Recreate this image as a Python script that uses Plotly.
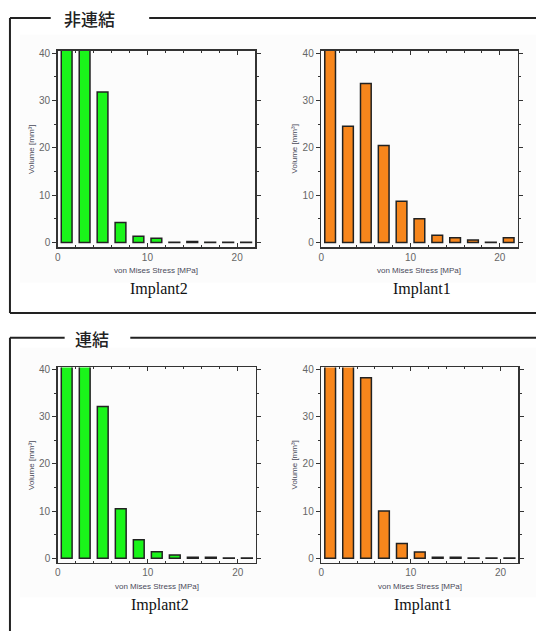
import plotly.graph_objects as go

W, H = 536, 632

# Data (bins of 2 MPa, centered at odd values)
stress_bins = [1, 3, 5, 7, 9, 11, 13, 15, 17, 19, 21]
x_ticks = [0, 10, 20]
y_ticks = [0, 10, 20, 30, 40]

sep_implant2 = [45, 45, 31.8, 4.2, 1.3, 0.9, 0.05, 0.2, 0.05, 0.05, 0.05]
sep_implant1 = [45, 24.6, 33.6, 20.5, 8.7, 5.0, 1.5, 1.0, 0.5, 0.05, 1.0]
con_implant2 = [45, 45, 32.2, 10.5, 3.9, 1.35, 0.7, 0.2, 0.2, 0.05, 0.05]
con_implant1 = [45, 45, 38.3, 10.0, 3.1, 1.3, 0.2, 0.2, 0.05, 0.05, 0.05]

group_titles = ["非連結", "連結"]
panel_names = ["Implant2", "Implant1"]
x_title = "von Mises Stress [MPa]"
y_title = "Volume [mm³]"

GREEN = "#1AF51A"
ORANGE = "#F7861C"

def px(x):
    return x / W

def py(y):
    return 1 - y / H

# panel pixel boxes: (x0, x1, ytop, ybottom)
panels = [
    (sep_implant2, GREEN, (55, 253.5, 48.3, 245.7), panel_names[0]),
    (sep_implant1, ORANGE, (320, 517.5, 48.3, 245.7), panel_names[1]),
    (con_implant2, GREEN, (55, 254.3, 366.7, 563.5), panel_names[0]),
    (con_implant1, ORANGE, (320, 518.3, 366.7, 563.5), panel_names[1]),
]

fig = go.Figure()
annotations = []
shapes = []

def ann(text, x, y, font, angle=0):
    annotations.append(dict(text=text, x=px(x), y=py(y), xref="paper", yref="paper",
                            xanchor="center", yanchor="middle", showarrow=False,
                            textangle=angle, font=font))

# faint background regions
for (x0, x1, y0, y1) in [(17, 536, 32, 281.5), (17, 536, 347, 598)]:
    shapes.append(dict(type="rect", xref="paper", yref="paper",
                       x0=px(x0), x1=px(x1), y0=py(y1), y1=py(y0),
                       fillcolor="#fcfcfc", line=dict(width=0), layer="below"))

for i, (vals, color, box, name) in enumerate(panels):
    k = "" if i == 0 else str(i + 1)
    xa, ya = "x" + k, "y" + k
    fig.add_trace(go.Bar(x=stress_bins, y=vals, width=1.2, xaxis=xa, yaxis=ya,
                         marker=dict(color=color, line=dict(color="#222222", width=1.5)),
                         showlegend=False, hoverinfo="skip"))
    x0, x1, yt, yb = box
    axis_common = dict(showline=True, linecolor="#333333", linewidth=1.5, mirror="allticks",
                       showgrid=False, zeroline=False, ticklen=4, tickcolor="#333333",
                       tickfont=dict(family="Liberation Sans, Arial", size=10, color="#666666"))
    fig.layout["xaxis" + k] = dict(axis_common, domain=[px(x0), px(x1)], range=[0, 22],
                                   anchor=ya, tickvals=x_ticks, ticks="inside",
                                   minor=dict(dtick=2, ticks="inside", ticklen=2, tickcolor="#333333"))
    fig.layout["yaxis" + k] = dict(axis_common, domain=[py(yb), py(yt)], range=[-1, 40.5],
                                   anchor=xa, tickvals=y_ticks, ticks="outside",
                                   minor=dict(dtick=5, ticks="outside", ticklen=2, tickcolor="#333333"))
    cx = (x0 + x1) / 2
    small = dict(family="Liberation Sans, Arial", size=8, color="#4a4a5a")
    ann(x_title, cx, yb + 24, small)
    ann(y_title, x0 - 27, (yt + yb) / 2, small, angle=-90)
    ann(name, cx + 3, yb + 42, dict(family="Liberation Serif, Times New Roman", size=16, color="#111111"))

# frames
LC = "#222222"
def line(x0, y0, x1, y1):
    shapes.append(dict(type="line", xref="paper", yref="paper", x0=px(x0), y0=py(y0),
                       x1=px(x1), y1=py(y1), line=dict(color=LC, width=2)))

# top frame
line(7, 15, 48, 15)
line(147, 15, 536, 15)
line(7, 15, 7, 312)
line(7, 312, 536, 312)
# bottom frame
line(7, 337, 62, 337)
line(128, 337, 536, 337)
line(7, 337, 7, 632)

title_font = dict(family="Noto Sans CJK JP", size=17, color="#222222", weight=500)
ann(group_titles[0], 87, 16, title_font)
ann(group_titles[1], 90, 338, title_font)

fig.update_layout(width=W, height=H, margin=dict(l=0, r=0, t=0, b=0),
                  paper_bgcolor="white", plot_bgcolor="white", bargap=0,
                  annotations=annotations, shapes=shapes)

fig.write_html("out.html", config={"displayModeBar": False, "staticPlot": True},
               post_script="document.body.style.margin='0';document.body.style.overflow='hidden';")
